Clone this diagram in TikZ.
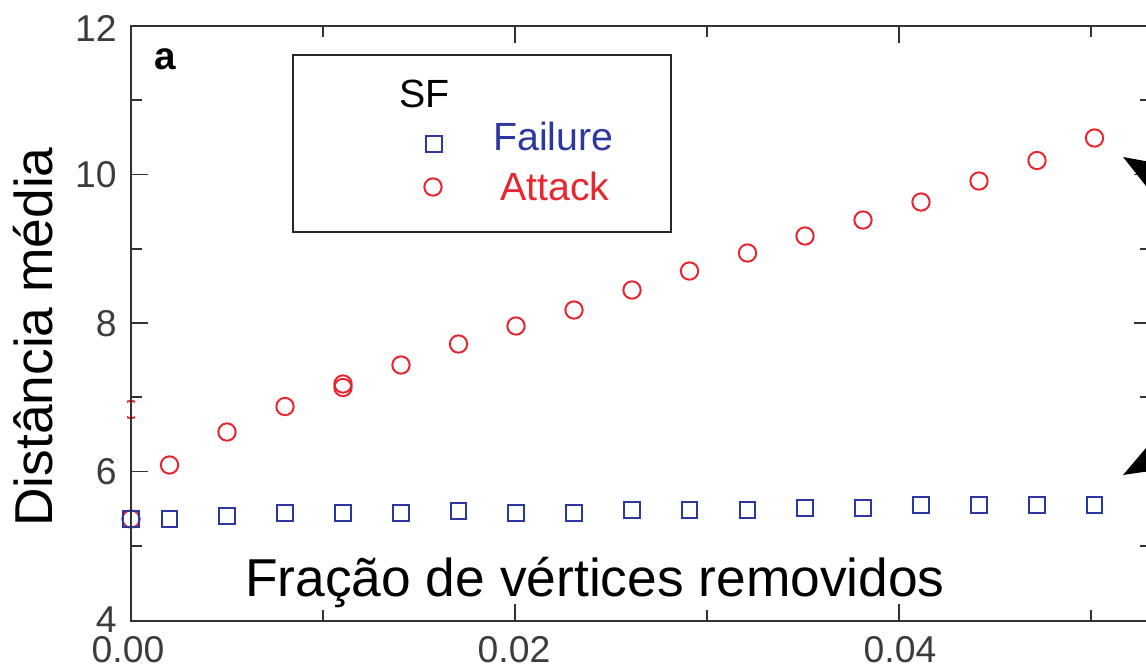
\documentclass[tikz,border=0pt]{standalone}
\usepackage{fontspec}
\setmainfont{Liberation Sans}
\usetikzlibrary{arrows.meta}
\definecolor{fblue}{RGB}{45,55,160}
\definecolor{ared}{RGB}{232,38,48}
\definecolor{axgray}{RGB}{50,50,50}
\definecolor{lblgray}{RGB}{60,60,60}
\begin{document}
\begin{tikzpicture}[x=0.75pt,y=-0.75pt,
  axisline/.style={draw=axgray, line width=1.5pt},
  tickline/.style={draw=axgray, line width=1.4pt},
  circ/.style={circle, draw=ared, line width=1.5pt, minimum size=13pt, inner sep=0pt},
  sqr/.style={rectangle, draw=fblue, line width=1.3pt, minimum size=11.5pt, inner sep=0pt},
  ticklbl/.style={text=lblgray, font=\fontsize{28}{30}\selectfont, inner sep=0pt},
  axlbl/.style={font=\fontsize{40}{44}\selectfont, inner sep=0pt},
  leglbl/.style={font=\fontsize{29.5}{32}\selectfont, inner sep=0pt},
  bigarrow/.style={draw=black, line width=2.5pt, -{Triangle[length=38pt, width=28pt]}}
]
\useasboundingbox (0,0) rectangle (1146,669);
\clip (0,0) rectangle (1146,669);

% legend box
\draw[line width=1.5pt, draw=black!85] (293,55) rectangle (671,232);
\node[leglbl, anchor=base west] (sf) at (399,107) {SF};
\node[sqr] (legsq) at (434,144) {};
\node[leglbl, text=fblue, anchor=base west] (fail) at (493,150) {Failure};
\node[circ] (legci) at (433,187) {};
\node[leglbl, text=ared, anchor=base west] (att) at (500,200) {Attack};

% panel letter
\node[font=\fontsize{29}{30}\selectfont\bfseries, inner sep=0pt] (pa) at (165,59) {a};

% attack circles
\begin{scope}
\clip (127,380) rectangle (135,440);
\node[circ] (c0) at (131,409.5) {};
\end{scope}
\foreach \x/\y [count=\i] in {131/519,169.5/465,227/432,285/406.5,343/384,343/387.5,401/365,458.5/344,516/326,574/310,632/290,689.5/271,747.5/253,805/236,863/220,921/202,979/181,1037/160.5,1094.5/138}
  \node[circ] (c\i) at (\x,\y) {};

% failure squares
\foreach \x/\y [count=\i] in {131/519,169.5/519,227/516,285/513,343/513,401/513,458.5/511,516/513,574/513,632/510,689.5/510,747.5/510,805/508,863/508,921/505,979/505,1037/505,1094.5/505}
  \node[sqr] (s\i) at (\x,\y) {};

% axes frame
\draw[axisline] (131,621) -- (131,26) -- (1151,26) -- (1151,621) -- cycle;

% left / right ticks
\foreach \y in {174.5,323,471.5} {
  \draw[tickline] (131,\y) -- ++(17,0);
  \draw[tickline] (1151,\y) -- ++(-17,0);
}
\foreach \y in {100.25,248.75,397.25,545.75} {
  \draw[tickline] (131,\y) -- ++(11,0);
  \draw[tickline] (1151,\y) -- ++(-11,0);
}
% bottom / top ticks
\foreach \x in {515,899} {
  \draw[tickline] (\x,621) -- ++(0,-17);
  \draw[tickline] (\x,26) -- ++(0,17);
}
\foreach \x in {323,707,1091} {
  \draw[tickline] (\x,621) -- ++(0,-11);
  \draw[tickline] (\x,26) -- ++(0,11);
}

% tick labels
\node[ticklbl, anchor=east] (y12) at (117,28) {12};
\node[ticklbl, anchor=east] (y10) at (117,174.5) {10};
\node[ticklbl, anchor=east] (y8) at (117,324) {8};
\node[ticklbl, anchor=east] (y6) at (117,472) {6};
\node[ticklbl, anchor=east] (y4) at (117,620) {4};
\node[ticklbl] (x0) at (128,650) {0.00};
\node[ticklbl] (x2) at (514,650) {0.02};
\node[ticklbl] (x4) at (900,650) {0.04};

% axis labels
\node[axlbl, rotate=90, anchor=base] (ylab) at (52,337) {Distância média};
\node[axlbl, anchor=base] (xlab) at (595,596) {Fração de vértices removidos};

% arrows at right edge
\coordinate (a1s) at (1209,208.5);
\coordinate (a1t) at (1123,157);
\coordinate (a2s) at (1210.5,426.5);
\coordinate (a2t) at (1123,475);
\draw[bigarrow] (a1s) -- (a1t);
\draw[bigarrow] (a2s) -- (a2t);
\end{tikzpicture}
\end{document}
